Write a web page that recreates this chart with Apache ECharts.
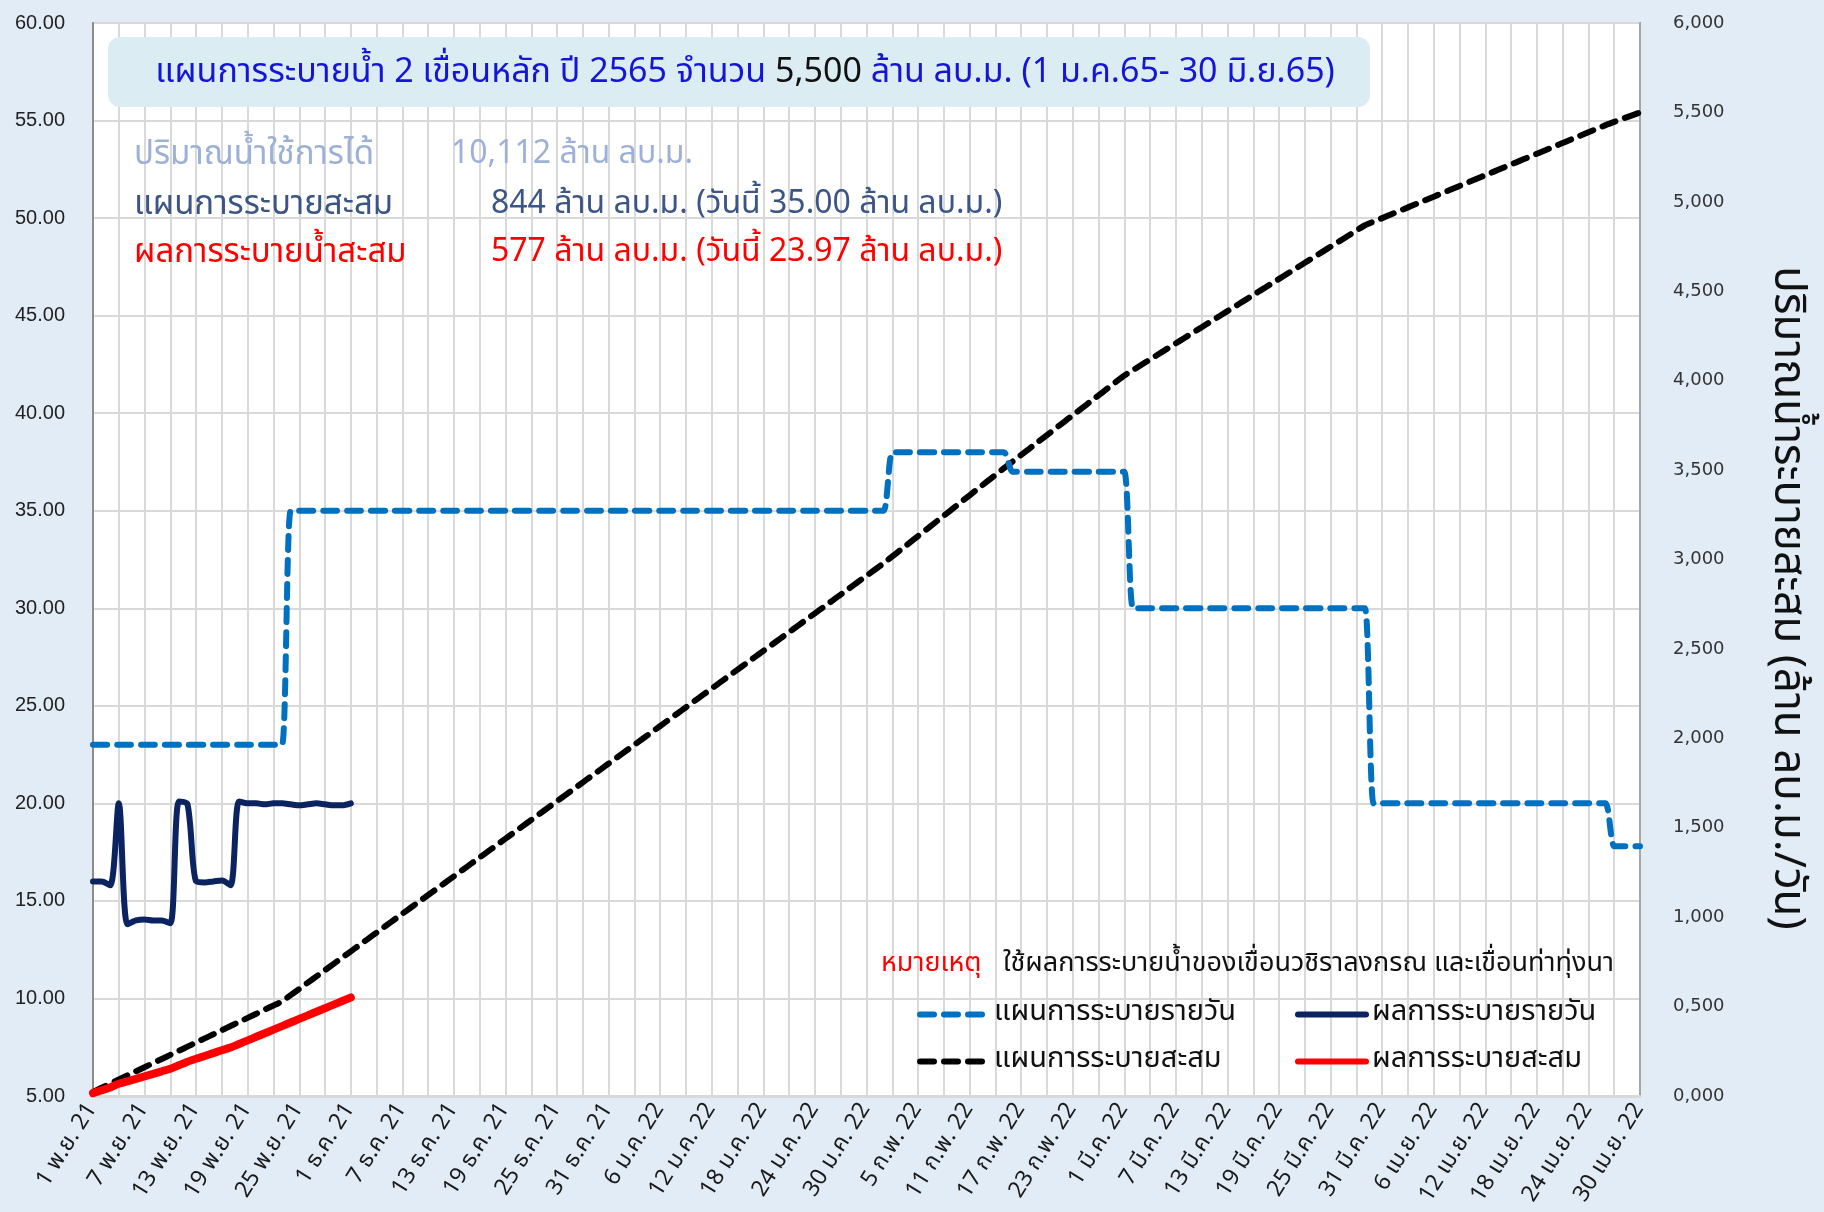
<!DOCTYPE html>
<html>
<head>
<meta charset="utf-8">
<title>แผนการระบายน้ำ 2 เขื่อนหลัก ปี 2565</title>
<script src="https://cdn.jsdelivr.net/npm/echarts@6/dist/echarts.min.js"></script>
<style>
  html, body { margin: 0; padding: 0; background: #E2ECF6; }
  #chart { width: 1824px; height: 1212px; }
</style>
</head>
<body>
<div id="chart"></div>
<script>
// Month labels on the date axis (1 Nov 2021 – 30 Apr 2022) and their day counts
const monthLabels = ['พ.ย. 21', 'ธ.ค. 21', 'ม.ค. 22', 'ก.พ. 22', 'มี.ค. 22', 'เม.ย. 22'];
const monthLengths = [30, 31, 31, 28, 31, 30];

// Daily release plan (million m³/day)
const planDaily = [
  23, 23, 23, 23, 23, 23, 23, 23, 23, 23,
  23, 23, 23, 23, 23, 23, 23, 23, 23, 23,
  23, 23, 23,
  35, 35, 35, 35, 35, 35, 35, 35, 35, 35,
  35, 35, 35, 35, 35, 35, 35, 35, 35, 35,
  35, 35, 35, 35, 35, 35, 35, 35, 35, 35,
  35, 35, 35, 35, 35, 35, 35, 35, 35, 35,
  35, 35, 35, 35, 35, 35, 35, 35, 35, 35,
  35, 35, 35, 35, 35, 35, 35, 35, 35, 35,
  35, 35, 35, 35, 35, 35, 35, 35, 35, 35,
  38, 38, 38, 38, 38, 38, 38, 38, 38, 38, 38, 38, 38, 38,
  37, 37, 37, 37, 37, 37, 37, 37, 37, 37, 37, 37, 37, 37,
  30, 30, 30, 30, 30, 30, 30, 30, 30, 30,
  30, 30, 30, 30, 30, 30, 30, 30, 30, 30,
  30, 30, 30, 30, 30, 30, 30, 30,
  20, 20, 20, 20, 20, 20, 20, 20, 20, 20,
  20, 20, 20, 20, 20, 20, 20, 20, 20, 20,
  20, 20, 20, 20, 20, 20, 20, 20,
  17.8, 17.8, 17.8, 17.8
];

// Actual daily release (million m³/day)
const actualDaily = [
  16.0, 16.0, 15.8, 20.0, 13.8, 14.0, 14.05, 14.0, 14.0, 13.85,
  20.1, 19.95, 16.0, 15.95, 16.0, 16.05, 15.8, 20.1, 20.0, 20.0,
  19.95, 20.0, 20.0, 19.95, 19.9, 19.95, 20.0, 19.95, 19.9, 19.9,
  20.0
];

// Cumulative release plan (million m³)
const planCumulative = [
  23, 46, 69, 92, 115, 138, 161, 184, 207, 230,
  253, 276, 299, 322, 345, 368, 391, 414, 437, 460,
  483, 506, 529,
  564, 599, 634, 669, 704, 739, 774, 809, 844, 879,
  914, 949, 984, 1019, 1054, 1089, 1124, 1159, 1194, 1229,
  1264, 1299, 1334, 1369, 1404, 1439, 1474, 1509, 1544, 1579,
  1614, 1649, 1684, 1719, 1754, 1789, 1824, 1859, 1894, 1929,
  1964, 1999, 2034, 2069, 2104, 2139, 2174, 2209, 2244, 2279,
  2314, 2349, 2384, 2419, 2454, 2489, 2524, 2559, 2594, 2629,
  2664, 2699, 2734, 2769, 2804, 2839, 2874, 2909, 2944, 2979,
  3017, 3055, 3093, 3131, 3169, 3207, 3245, 3283, 3321, 3359, 3397, 3435, 3473, 3511,
  3548, 3585, 3622, 3659, 3696, 3733, 3770, 3807, 3844, 3881, 3918, 3955, 3992, 4029,
  4059, 4089, 4119, 4149, 4179, 4209, 4239, 4269, 4299, 4329,
  4359, 4389, 4419, 4449, 4479, 4509, 4539, 4569, 4599, 4629,
  4659, 4689, 4719, 4749, 4779, 4809, 4839, 4869,
  4889, 4909, 4929, 4949, 4969, 4989, 5009, 5029, 5049, 5069,
  5089, 5109, 5129, 5149, 5169, 5189, 5209, 5229, 5249, 5269,
  5289, 5309, 5329, 5349, 5369, 5389, 5409, 5429,
  5447, 5465, 5482, 5500
];

// Actual cumulative release (million m³)
const actualCumulative = [
  16, 32, 48, 68, 82, 96, 110, 124, 138, 152,
  172, 192, 208, 224, 240, 256, 271, 291, 311, 331,
  351, 371, 391, 411, 431, 451, 471, 491, 511, 531,
  551
];

// Series names (also used by the legend)
const seriesNames = ['แผนการระบายรายวัน', 'ผลการระบายรายวัน', 'แผนการระบายสะสม', 'ผลการระบายสะสม'];

// Build one category per day: "1 พ.ย. 21", "2 พ.ย. 21", ...
const dayCategories = [];
monthLabels.forEach((m, i) => {
  for (let d = 1; d <= monthLengths[i]; d++) dayCategories.push(d + ' ' + m);
});

const thaiFont = '"Noto Sans Thai", "Tahoma", "Noto Sans", "DejaVu Sans", sans-serif';
const gridLine = '#D9D9D9';

const chart = echarts.init(document.getElementById('chart'), null, { renderer: 'canvas' });

function legendAt(name, left, top) {
  return {
    data: [name], left: left, top: top, orient: 'horizontal',
    itemWidth: 68, itemHeight: 18, padding: 0,
    selectedMode: false,
    itemStyle: { opacity: 0 },
    lineStyle: { width: 6 },
    textStyle: { fontFamily: thaiFont, fontSize: 29, color: '#111', padding: [0, 0, 0, 1] }
  };
}

chart.setOption({
  animation: false,
  backgroundColor: '#E2ECF6',
  grid: {
    left: 93, right: 184, top: 23, bottom: 116,
    outerBoundsMode: 'none', containLabel: false,
    show: true, backgroundColor: '#FFFFFF', borderColor: '#8C8C8C', borderWidth: 2
  },
  legend: [
    legendAt(seriesNames[0], 917, 1000),
    legendAt(seriesNames[1], 1295, 1000),
    legendAt(seriesNames[2], 917, 1047),
    legendAt(seriesNames[3], 1295, 1047)
  ],
  xAxis: {
    type: 'category',
    data: dayCategories,
    boundaryGap: false,
    axisLine: { show: true, lineStyle: { color: gridLine, width: 3 } },
    axisTick: { show: false },
    axisLabel: {
      interval: 5, rotate: 58, margin: 10, hideOverlap: false,
      fontFamily: thaiFont, fontSize: 23, color: '#1A1A1A'
    },
    splitLine: { show: true, interval: 2, lineStyle: { color: gridLine, width: 2 } }
  },
  yAxis: [
    {
      type: 'value', min: 5, max: 60, interval: 5, position: 'left',
      axisLine: { show: true, lineStyle: { color: '#8C8C8C', width: 2 } },
      axisTick: { show: false },
      axisLabel: {
        margin: 28, fontFamily: '"Liberation Sans", Arial, sans-serif', fontSize: 20, color: '#222',
        formatter: v => v.toFixed(2)
      },
      splitLine: { show: true, lineStyle: { color: gridLine, width: 2 } }
    },
    {
      type: 'value', min: 0, max: 6000, interval: 500, position: 'right',
      axisLine: { show: true, lineStyle: { color: '#A6A6A6', width: 2 } },
      axisTick: { show: false },
      axisLabel: {
        margin: 33, fontFamily: '"DejaVu Sans", Verdana, sans-serif', fontSize: 18, color: '#333',
        formatter: v => Math.floor(v / 1000) + ',' + String(v % 1000).padStart(3, '0')
      },
      splitLine: { show: false }
    }
  ],
  series: [
    {
      name: seriesNames[0], type: 'line', yAxisIndex: 0, data: planDaily,
      symbol: 'none', smooth: 0.25, z: 4,
      itemStyle: { color: '#0070C0' },
      lineStyle: { color: '#0070C0', width: 6, type: [14, 10], cap: 'round', join: 'round' }
    },
    {
      name: seriesNames[1], type: 'line', yAxisIndex: 0, data: actualDaily,
      symbol: 'none', smooth: 0.3, z: 5,
      itemStyle: { color: '#0B2461' },
      lineStyle: { color: '#0B2461', width: 6, cap: 'round', join: 'round' }
    },
    {
      name: seriesNames[2], type: 'line', yAxisIndex: 1, data: planCumulative,
      symbol: 'none', smooth: 0.2, z: 3,
      itemStyle: { color: '#000000' },
      lineStyle: { color: '#000000', width: 6, type: [14, 10], cap: 'round', join: 'round' }
    },
    {
      name: seriesNames[3], type: 'line', yAxisIndex: 1, data: actualCumulative,
      symbol: 'none', smooth: 0.2, z: 6,
      itemStyle: { color: '#FF0000' },
      lineStyle: { color: '#FF0000', width: 8, cap: 'round', join: 'round' }
    }
  ],
  graphic: [
    // title banner
    {
      type: 'rect', z: 50,
      shape: { x: 108, y: 37, width: 1262, height: 70, r: 12 },
      style: { fill: '#DBEDF3' }
    },
    {
      type: 'text', z: 51, x: 745, y: 75,
      style: {
        text: '{b|แผนการระบายน้ำ 2 เขื่อนหลัก ปี 2565 จำนวน }{k|5,500}{b| ล้าน ลบ.ม. (1 ม.ค.65- 30 มิ.ย.65)}',
        align: 'center', verticalAlign: 'middle',
        rich: {
          b: { fontFamily: thaiFont, fontSize: 34, fill: '#1515D8' },
          k: { fontFamily: thaiFont, fontSize: 34, fill: '#111111' }
        }
      }
    },
    // summary lines
    { type: 'text', z: 51, x: 134, y: 157, style: { text: 'ปริมาณน้ำใช้การได้', fontFamily: thaiFont, fontSize: 33, fill: '#9DB1D7', verticalAlign: 'middle' } },
    { type: 'text', z: 51, x: 451, y: 157, style: { text: '10,112 ล้าน ลบ.ม.', fontFamily: thaiFont, fontSize: 32, fill: '#9DB1D7', verticalAlign: 'middle' } },
    { type: 'text', z: 51, x: 134, y: 207, style: { text: 'แผนการระบายสะสม', fontFamily: thaiFont, fontSize: 33, fill: '#3B5587', verticalAlign: 'middle' } },
    { type: 'text', z: 51, x: 491, y: 207, style: { text: '844 ล้าน ลบ.ม. (วันนี้ 35.00 ล้าน ลบ.ม.)', fontFamily: thaiFont, fontSize: 32, fill: '#3B5587', verticalAlign: 'middle' } },
    { type: 'text', z: 51, x: 134, y: 255, style: { text: 'ผลการระบายน้ำสะสม', fontFamily: thaiFont, fontSize: 33, fill: '#FF0000', verticalAlign: 'middle' } },
    { type: 'text', z: 51, x: 491, y: 255, style: { text: '577 ล้าน ลบ.ม. (วันนี้ 23.97 ล้าน ลบ.ม.)', fontFamily: thaiFont, fontSize: 32, fill: '#FF0000', verticalAlign: 'middle' } },
    // note above the legend
    { type: 'text', z: 51, x: 881, y: 966, style: { text: 'หมายเหตุ', fontFamily: thaiFont, fontSize: 27, fill: '#FF0000', verticalAlign: 'middle' } },
    { type: 'text', z: 51, x: 1003, y: 966, style: { text: 'ใช้ผลการระบายน้ำของเขื่อนวชิราลงกรณ และเขื่อนท่าทุ่งนา', fontFamily: thaiFont, fontSize: 27, fill: '#111111', verticalAlign: 'middle' } },
    // right axis title
    {
      type: 'text', z: 51, x: 1784, y: 598, rotation: -Math.PI / 2,
      style: { text: 'ปริมาณน้ำระบายสะสม (ล้าน ลบ.ม./วัน)', fontFamily: thaiFont, fontSize: 44, fill: '#111111', align: 'center', verticalAlign: 'middle' }
    }
  ]
});
</script>
</body>
</html>
